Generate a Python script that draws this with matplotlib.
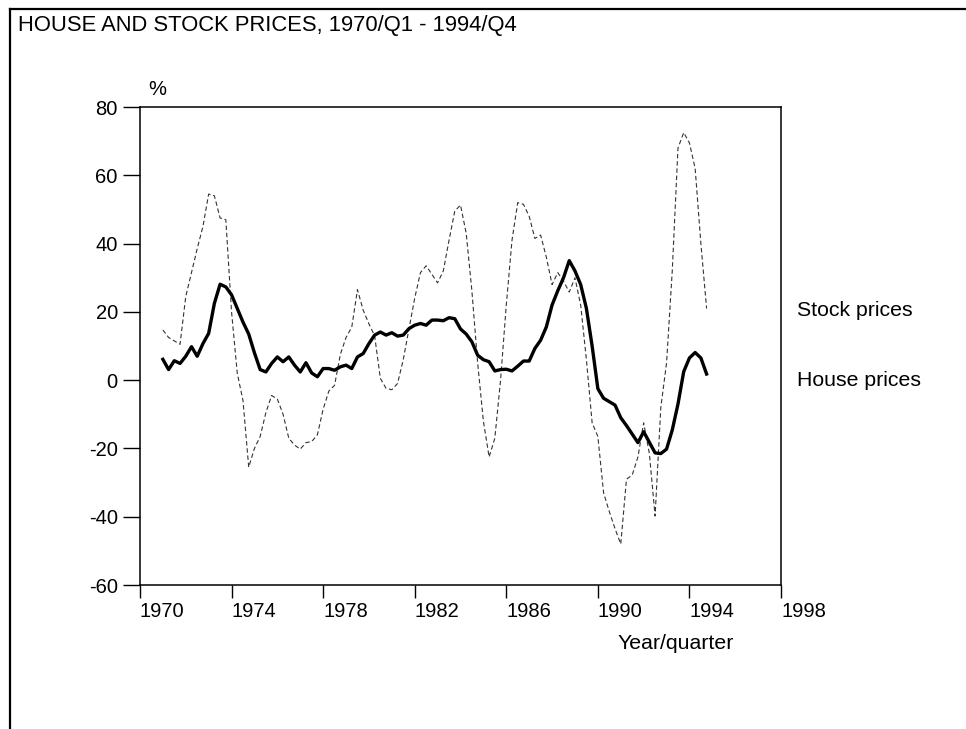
import numpy as np
import matplotlib.pyplot as plt
from matplotlib.lines import Line2D

plt.rcParams['font.family'] = ['Liberation Sans', 'DejaVu Sans']

# -------------------------
# Data (annual % change, quarterly, 1971Q1 - 1994Q4)
# -------------------------
start_year = 1971
house = [6.1, 3.1, 5.7, 4.9, 7.0, 9.8, 7.0, 10.7, 13.7, 22.5,
         28.1, 27.3, 25.0, 21.0, 17.0, 13.5, 8.0, 3.1, 2.4, 4.9,
         6.8, 5.4, 6.8, 4.4, 2.4, 5.1, 2.1, 1.0, 3.4, 3.4,
         2.9, 3.9, 4.4, 3.4, 6.8, 7.8, 10.7, 13.2, 14.1, 13.2,
         13.9, 12.9, 13.2, 15.1, 16.1, 16.6, 16.1, 17.6, 17.6, 17.4,
         18.3, 18.0, 15.0, 13.5, 11.2, 7.3, 6.0, 5.4, 2.7, 3.1,
         3.2, 2.7, 4.1, 5.6, 5.6, 9.3, 11.7, 15.6, 22.0, 26.2,
         30.0, 35.0, 32.0, 28.0, 21.0, 10.0, -2.5, -5.3, -6.3, -7.3,
         -11.0, -13.3, -15.8, -18.3, -15.1, -18.2, -21.3, -21.5, -20.2, -14.6,
         -7.0, 2.5, 6.5, 8.1, 6.5, 1.8]
stock = [14.7, 12.5, 11.5, 10.5, 24.5, 31.5, 38.5, 45.0, 54.5, 54.0,
         47.5, 47.0, 20.0, 2.0, -6.0, -25.5, -20.0, -16.5, -9.5, -4.5,
         -5.5, -10.0, -17.0, -19.0, -20.2, -18.3, -18.0, -16.0, -8.5, -3.2,
         -1.5, 7.5, 12.5, 15.5, 26.5, 20.5, 16.5, 13.0, 0.5, -2.4,
         -2.8, -1.0, 6.0, 15.0, 24.0, 31.5, 33.5, 31.0, 28.5, 32.0,
         41.0, 49.5, 51.3, 43.0, 26.0, 5.0, -12.0, -22.5, -17.0, 0.0,
         22.0, 41.0, 52.0, 51.5, 48.0, 41.5, 42.5, 36.0, 28.0, 31.5,
         29.0, 25.8, 30.0, 22.0, 6.0, -12.5, -16.5, -33.0, -38.5, -43.5,
         -48.0, -29.0, -27.8, -22.5, -12.5, -21.5, -39.8, -8.0, 5.0, 32.0,
         68.0, 72.5, 69.5, 62.0, 40.0, 21.0]
t = start_year + np.arange(len(house)) / 4.0

xticks = [1970, 1974, 1978, 1982, 1986, 1990, 1994, 1998]
yticks = [-60, -40, -20, 0, 20, 40, 60, 80]

# -------------------------
# Plotting
# -------------------------
fig = plt.figure(figsize=(9.66, 7.29), dpi=100)
ax = fig.add_axes([0.1449, 0.1975, 0.6636, 0.6557])

ax.plot(t, stock, color='#333333', lw=0.8, ls=(0, (4, 2.5)))
ax.plot(t, house, color='black', lw=2.4, solid_joinstyle='round')

ax.set_xlim(1970, 1998)
ax.set_ylim(-60, 80)
ax.set_xticks(xticks)
ax.set_yticks(yticks)
ax.set_xticklabels([str(x) for x in xticks], ha='left')
ax.set_yticklabels([str(y) for y in yticks])
ax.tick_params(axis='both', direction='out', width=1, labelsize=14.5,
               colors='black')
ax.tick_params(axis='y', length=12, pad=4)
ax.tick_params(axis='x', length=9.5, pad=3)
for s in ax.spines.values():
    s.set_linewidth(1.1)

ax.text(1970.35, 85, '%', fontsize=14.5, ha='left', va='center')
ax.text(1990.84, -77, 'Year/quarter', fontsize=15.3, ha='left', va='center')
ax.text(1998.7, 20.5, 'Stock prices', fontsize=15.3, ha='left', va='center')
ax.text(1998.7, 0, 'House prices', fontsize=15.3, ha='left', va='center')

# outer frame
fig.text(0.019, 0.965, 'HOUSE AND STOCK PRICES, 1970/Q1 - 1994/Q4',
         fontsize=15.8, ha='left', va='center')
fig.add_artist(Line2D([0.0104, 1.0], [0.9876, 0.9876], color='black', lw=1.6))
fig.add_artist(Line2D([0.0104, 0.0104], [0.0, 0.9876], color='black', lw=1.6))

fig.savefig('out.png', dpi=100)
